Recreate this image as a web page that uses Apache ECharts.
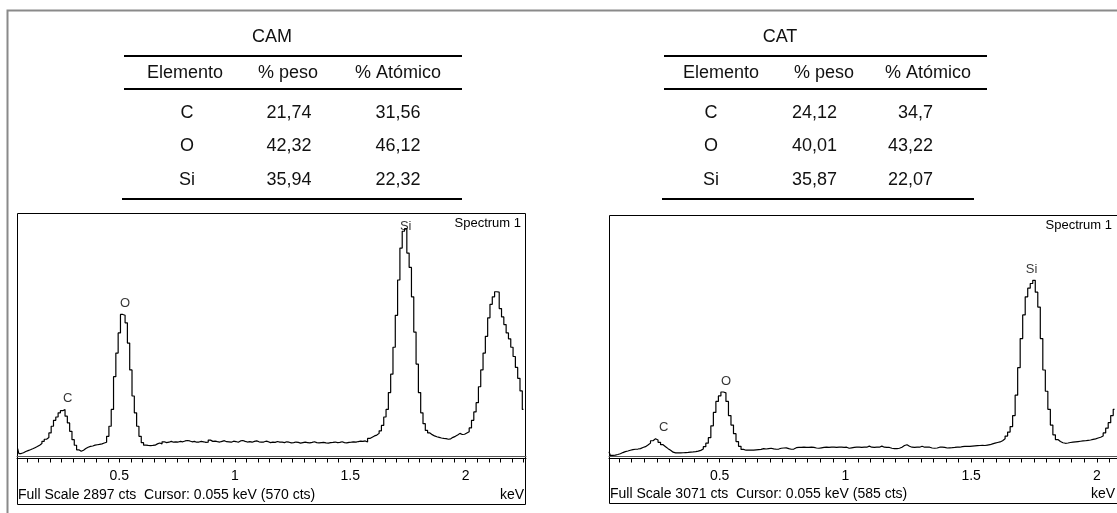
<!DOCTYPE html>
<html>
<head>
<meta charset="utf-8">
<script src="https://cdn.jsdelivr.net/npm/echarts@6/dist/echarts.min.js"></script>
<style>
  html, body { margin: 0; padding: 0; background: #fff; }
  #chart { width: 1117px; height: 513px; }
</style>
</head>
<body>
<div id="chart"></div>
<script>
// Composition tables (EDS quantification)
const tableHeader = ['Elemento', '% peso', '% Atómico'];
const elements = ['C', 'O', 'Si'];
const camWeight = [21.74, 42.32, 35.94];
const camAtomic = [31.56, 46.12, 22.32];
const catWeight = [24.12, 40.01, 35.87];
const catAtomic = [34.7, 43.22, 22.07];

// EDS spectra: counts per 10 eV channel, first channel centred at the start energy
const channelKeV = 0.01;
const camStartKeV = 0.06;
const camCounts = [
  95, 35, 45, 60, 70, 80, 92, 105, 118, 135,
  155, 180, 205, 225, 280, 360, 430, 470, 520, 545,
  558, 480, 400, 300, 200, 134, 80, 63, 75, 95,
  110, 120, 125, 135, 140, 145, 150, 160, 170, 240,
  360, 560, 950, 1230, 1470, 1690, 1680, 1590, 1350, 1030,
  720, 520, 360, 240, 165, 135, 132, 130, 132, 135,
  150, 160, 150, 175, 165, 170, 180, 170, 175, 172,
  180, 175, 185, 190, 185, 175, 180, 170, 172, 180,
  175, 168, 170, 195, 180, 182, 176, 172, 180, 188,
  176, 175, 170, 182, 178, 170, 185, 190, 180, 172,
  176, 170, 180, 186, 175, 170, 172, 182, 176, 165,
  170, 168, 178, 172, 170, 165, 175, 170, 163, 165,
  172, 168, 160, 165, 170, 166, 162, 168, 175, 165,
  162, 165, 168, 162, 160, 165, 168, 172, 165, 168,
  175, 165, 162, 168, 170, 175, 172, 178, 182, 180,
  185, 172, 215, 230, 245, 255, 275, 305, 370, 470,
  560, 760, 980, 1300, 1680, 2100, 2480, 2680, 2710, 2420,
  2250, 1900, 1480, 1100, 760, 520, 390, 310, 280, 260,
  245, 235, 228, 220, 215, 212, 205, 210, 228, 240,
  255, 275, 262, 265, 280, 295, 340, 430, 530, 640,
  830, 1030, 1230, 1430, 1650, 1810, 1900, 1960, 1955, 1760,
  1660, 1570, 1470, 1400, 1300, 1190, 1060, 930, 780, 560
];
const catStartKeV = 0.06;
const catCounts = [
  60, 15, 18, 25, 35, 50, 62, 70, 80, 88,
  92, 95, 100, 115, 125, 145, 170, 200, 225, 210,
  180, 150, 125, 100, 80, 55, 47, 47, 47, 48,
  50, 52, 55, 58, 62, 68, 78, 95, 125, 170,
  240, 390, 560, 700, 770, 820, 810, 700, 520, 400,
  290, 190, 130, 90, 80, 80, 82, 82, 85, 88,
  90, 100, 95, 100, 105, 98, 92, 95, 105, 108,
  110, 100, 92, 95, 112, 115, 115, 118, 115, 115,
  118, 115, 108, 105, 110, 115, 118, 115, 118, 118,
  115, 118, 118, 115, 118, 105, 110, 115, 118, 118,
  115, 118, 118, 132, 118, 115, 118, 118, 132, 118,
  115, 115, 105, 100, 100, 105, 118, 140, 150, 130,
  118, 115, 118, 118, 130, 118, 118, 118, 108, 105,
  108, 118, 118, 115, 108, 110, 112, 115, 120, 118,
  125, 128, 130, 128, 132, 135, 138, 140, 142, 140,
  145, 150, 160, 170, 178, 185, 200, 225, 260, 310,
  380, 520, 780, 1130, 1500, 1800, 2030, 2140, 2200, 2240,
  2090, 1900, 1500, 1100, 830, 600, 400, 275, 215, 190,
  175, 168, 172, 178, 182, 186, 190, 194, 198, 200,
  205, 210, 218, 225, 235, 245, 260, 300, 360, 430,
  520, 600
];

// Acquisition info shown under each spectrum
const camFullScale = 2897;
const catFullScale = 3071;
const cursorKeV = 0.055;
const camCursorCts = 570;
const catCursorCts = 585;

// Line markers and axis labels
const peakNames = ['C', 'O', 'Si'];
const peakKeV = [0.277, 0.525, 1.740];
const tickLabelKeV = [0.5, 1, 1.5, 2];

const FONT = '"Liberation Sans", Arial, sans-serif';

function toPairs(counts, start) {
  return counts.map((c, i) => [+(start + i * channelKeV).toFixed(3), c]);
}

// Marker sits above the strongest channel near the line energy, kept inside the frame
function markerData(counts, start, fullScale) {
  return peakNames.map((name, k) => {
    let best = 0;
    counts.forEach((c, i) => {
      const e = start + i * channelKeV;
      if (Math.abs(e - peakKeV[k]) <= 0.04 && c > best) best = c;
    });
    return { name, value: [peakKeV[k], Math.min(best, fullScale * 0.9)] };
  });
}

function minorTicks(min, max) {
  const out = [];
  for (let v = Math.ceil(min / 0.05) * 0.05; v <= max + 1e-9; v += 0.05) out.push(+v.toFixed(2));
  return out;
}

const panels = [
  { left: 17, top: 213, width: 509, zeroY: 456.5, frameBottom: 504, min: 0.057, max: 2.261,
    counts: camCounts, start: camStartKeV, fullScale: camFullScale, cursorCts: camCursorCts },
  { left: 609, top: 215, width: 509, zeroY: 456.5, frameBottom: 503, min: 0.06, max: 2.08,
    counts: catCounts, start: catStartKeV, fullScale: catFullScale, cursorCts: catCursorCts }
];

const grid = [], xAxis = [], yAxis = [], series = [], graphic = [];

panels.forEach((p, g) => {
  grid.push({ left: p.left, top: p.top, width: p.width, height: p.zeroY - p.top });
  xAxis.push({
    type: 'value', gridIndex: g, min: p.min, max: p.max, position: 'bottom',
    axisLine: { show: true, lineStyle: { color: '#555', width: 1 } },
    axisTick: { show: false }, axisLabel: { show: false }, splitLine: { show: false }
  });
  xAxis.push({
    type: 'value', gridIndex: g, min: p.min, max: p.max, position: 'bottom', offset: 2,
    axisLine: { show: true, lineStyle: { color: '#000', width: 1 } },
    axisTick: { show: true, length: 4, lineStyle: { color: '#000', width: 1 },
      customValues: minorTicks(p.min, p.max) },
    axisLabel: { show: true, customValues: tickLabelKeV, margin: 11,
      color: '#000', fontSize: 14, fontFamily: FONT },
    splitLine: { show: false }
  });
  yAxis.push({ type: 'value', gridIndex: g, min: 0, max: p.fullScale, show: false });

  series.push({
    type: 'line', xAxisIndex: 2 * g, yAxisIndex: g,
    data: toPairs(p.counts, p.start), step: 'middle', symbol: 'none',
    lineStyle: { color: '#000', width: 1.2 }, silent: true
  });
  series.push({
    type: 'scatter', xAxisIndex: 2 * g, yAxisIndex: g,
    data: markerData(p.counts, p.start, p.fullScale),
    symbolSize: 1, itemStyle: { color: 'rgba(0,0,0,0)' }, silent: true,
    label: { show: true, position: 'top', distance: 4, formatter: '{b}',
      color: '#000', fontSize: 13, fontFamily: FONT }
  });

  const right = p.left + p.width;
  graphic.push({
    type: 'rect', silent: true,
    shape: { x: p.left + 0.5, y: p.top + 0.5, width: p.width - 1, height: p.frameBottom - p.top },
    style: { fill: null, stroke: '#000', lineWidth: 1 }
  });
  graphic.push({
    type: 'text', silent: true,
    style: { text: 'Spectrum 1', x: Math.min(right, 1117) - 5, y: p.top + 10,
      align: 'right', verticalAlign: 'middle', textAlign: 'right', textVerticalAlign: 'middle',
      font: '13px ' + FONT, fill: '#000' }
  });
  graphic.push({
    type: 'text', silent: true,
    style: { text: 'Full Scale ' + p.fullScale + ' cts  Cursor: ' + cursorKeV.toFixed(3) + ' keV (' + p.cursorCts + ' cts)',
      x: p.left + 1, y: p.frameBottom - 9,
      align: 'left', verticalAlign: 'middle', textAlign: 'left', textVerticalAlign: 'middle',
      font: '14px ' + FONT, fill: '#000' }
  });
  graphic.push({
    type: 'text', silent: true,
    style: { text: 'keV', x: Math.min(right, 1117) - 2, y: p.frameBottom - 9,
      align: 'right', verticalAlign: 'middle', textAlign: 'right', textVerticalAlign: 'middle',
      font: '14px ' + FONT, fill: '#000' }
  });
});

// Page border
graphic.push({
  type: 'polyline', silent: true,
  shape: { points: [[7.5, 513], [7.5, 10.5], [1117, 10.5]] },
  style: { fill: null, stroke: '#8a8a8a', lineWidth: 2 }
});

const fmt = v => String(v).replace('.', ',');

function tableGraphics(t) {
  const out = [];
  const txt = (text, x, y, align) => out.push({
    type: 'text', silent: true,
    style: { text, x, y, align: align || 'center', verticalAlign: 'middle',
      textAlign: align || 'center', textVerticalAlign: 'middle',
      font: '18px ' + FONT, fill: '#111' }
  });
  const rule = (x1, x2, y) => out.push({
    type: 'line', silent: true,
    shape: { x1, y1: y, x2, y2: y }, style: { stroke: '#000', lineWidth: 2 }
  });
  txt(t.title, t.titleX, t.titleY);
  rule(t.x1, t.x2, t.rule1);
  tableHeader.forEach((h, i) => txt(h, t.headX[i], t.headY));
  rule(t.x1, t.x2, t.rule2);
  elements.forEach((el, r) => {
    const y = t.rowY[r];
    txt(el, t.elX, y);
    txt(fmt(t.weight[r]), t.wX, y, t.numAlign);
    txt(fmt(t.atomic[r]), t.aX, y, t.numAlign);
  });
  rule(t.bx1, t.bx2, t.rule3);
  return out;
}

graphic.push(...tableGraphics({
  title: 'CAM', titleX: 272, titleY: 37,
  x1: 124, x2: 462, bx1: 122, bx2: 462,
  rule1: 56, rule2: 89, rule3: 199,
  headX: [185, 288, 398], headY: 73,
  rowY: [113, 146.5, 180],
  elX: 187, wX: 289, aX: 398, numAlign: 'center',
  weight: camWeight, atomic: camAtomic
}));
graphic.push(...tableGraphics({
  title: 'CAT', titleX: 780, titleY: 37,
  x1: 664, x2: 987, bx1: 662, bx2: 974,
  rule1: 56, rule2: 89, rule3: 199,
  headX: [721, 824, 928], headY: 73,
  rowY: [113, 146.5, 180],
  elX: 711, wX: 837, aX: 933, numAlign: 'right',
  weight: catWeight, atomic: catAtomic
}));

const chart = echarts.init(document.getElementById('chart'), null, { renderer: 'canvas' });
chart.setOption({
  animation: false,
  backgroundColor: '#fff',
  grid, xAxis, yAxis, series, graphic
});
</script>
</body>
</html>
